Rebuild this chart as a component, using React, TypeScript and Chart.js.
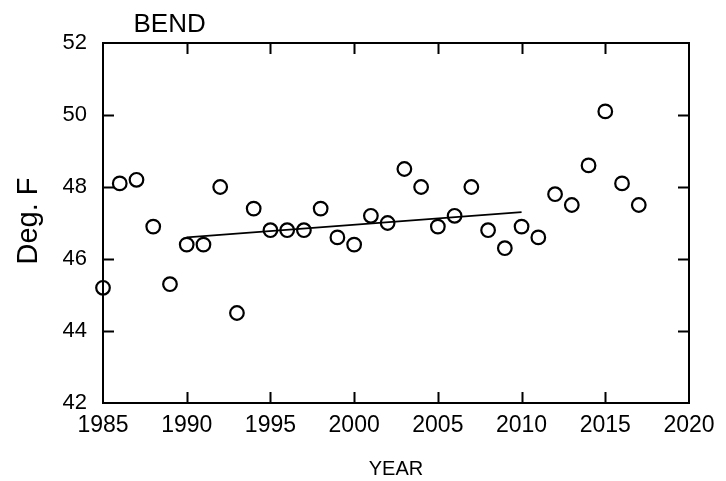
import React, { useEffect, useRef } from "react";
import { Chart, registerables } from "chart.js";

Chart.register(...registerables);

const TITLE = "BEND";
const X_TITLE = "YEAR";
const Y_TITLE = "Deg. F";

const years = [
  1985, 1986, 1987, 1988, 1989, 1990, 1991, 1992, 1993, 1994, 1995, 1996, 1997,
  1998, 1999, 2000, 2001, 2002, 2003, 2004, 2005, 2006, 2007, 2008, 2009, 2010,
  2011, 2012, 2013, 2014, 2015, 2016, 2017,
];
const temps = [
  45.2, 48.1, 48.2, 46.9, 45.3, 46.4, 46.4, 48.0, 44.5, 47.4, 46.8, 46.8, 46.8,
  47.4, 46.6, 46.4, 47.2, 47.0, 48.5, 48.0, 46.9, 47.2, 48.0, 46.8, 46.3, 46.9,
  46.6, 47.8, 47.5, 48.6, 50.1, 48.1, 47.5,
];
const trendYears = [1990, 2010];
const trendTemps = [46.6, 47.3];

const xMin = 1985;
const xMax = 2020;
const xStep = 5;
const yMin = 42;
const yMax = 52;
const yStep = 2;

const FONT = '"Liberation Sans", Arial, Helvetica, sans-serif';
const TICK = 11;

const framePlugin = {
  id: "frameAndTexts",
  afterDraw(chart: any) {
    const { ctx, chartArea: a, scales } = chart;
    const xs = scales.x;
    const ys = scales.y;
    ctx.save();
    ctx.strokeStyle = "#000";
    ctx.lineWidth = 2;
    ctx.strokeRect(a.left, a.top, a.right - a.left, a.bottom - a.top);
    ctx.beginPath();
    xs.ticks.forEach((t: any) => {
      const p = Math.round(xs.getPixelForValue(t.value)) + 0.5;
      if (p <= a.left + 2 || p >= a.right - 2) return;
      ctx.moveTo(p, a.bottom);
      ctx.lineTo(p, a.bottom - TICK);
      ctx.moveTo(p, a.top);
      ctx.lineTo(p, a.top + TICK);
    });
    ys.ticks.forEach((t: any) => {
      const p = Math.round(ys.getPixelForValue(t.value)) + 0.5;
      if (p <= a.top + 2 || p >= a.bottom - 2) return;
      ctx.moveTo(a.left, p);
      ctx.lineTo(a.left + TICK, p);
      ctx.moveTo(a.right, p);
      ctx.lineTo(a.right - TICK, p);
    });
    ctx.stroke();

    ctx.fillStyle = "#000";
    ctx.textBaseline = "alphabetic";
    // chart title
    ctx.font = `26px ${FONT}`;
    ctx.textAlign = "left";
    ctx.fillText(TITLE, a.left + 30.5, 32);
    // x title
    ctx.font = `20px ${FONT}`;
    ctx.textAlign = "center";
    ctx.fillText(X_TITLE, (a.left + a.right) / 2, 475);
    // y title
    ctx.save();
    ctx.translate(37, (a.top + a.bottom) / 2 - 2);
    ctx.rotate(-Math.PI / 2);
    ctx.font = `29px ${FONT}`;
    ctx.textAlign = "center";
    ctx.fillText(Y_TITLE, 0, 0);
    ctx.restore();
    ctx.restore();
  },
};

export default function App() {
  const ref = useRef<HTMLCanvasElement | null>(null);

  useEffect(() => {
    if (!ref.current) return;
    const chart = new Chart(ref.current, {
      type: "scatter",
      data: {
        datasets: [
          {
            type: "scatter",
            data: years.map((y, i) => ({ x: y, y: temps[i] })),
            pointStyle: "circle",
            pointRadius: 6.8,
            pointBorderWidth: 2.2,
            borderColor: "#000",
            backgroundColor: "rgba(0,0,0,0)",
            clip: false,
          } as any,
          {
            type: "line",
            data: trendYears.map((y, i) => ({ x: y, y: trendTemps[i] })),
            borderColor: "#000",
            borderWidth: 1.8,
            pointRadius: 0,
            fill: false,
          } as any,
        ],
      },
      options: {
        responsive: false,
        animation: false,
        layout: { padding: { left: 0, top: 43, right: 37, bottom: 0 } },
        plugins: {
          legend: { display: false },
          title: { display: false },
          tooltip: { enabled: false },
        },
        scales: {
          x: {
            type: "linear",
            min: xMin,
            max: xMax,
            grid: { display: false, drawTicks: false },
            border: { display: false },
            ticks: {
              stepSize: xStep,
              color: "#000",
              padding: 9,
              maxRotation: 0,
              font: { family: FONT, size: 23 },
              callback: (v: any) => String(v),
            },
            afterFit: (s: any) => {
              s.height = 78;
            },
          },
          y: {
            type: "linear",
            min: yMin,
            max: yMax,
            grid: { display: false, drawTicks: false },
            border: { display: false },
            ticks: {
              stepSize: yStep,
              color: "#000",
              padding: 16,
              font: { family: FONT, size: 22 },
              callback: (v: any) => String(v),
            },
            afterFit: (s: any) => {
              s.width = 103;
            },
          },
        },
      },
      plugins: [framePlugin],
    });
    return () => chart.destroy();
  }, []);

  return (
    <div
      style={{
        position: "absolute",
        left: 0,
        top: 0,
        width: 726,
        height: 481,
        background: "#fff",
      }}
    >
      <canvas ref={ref} width={726} height={481} style={{ display: "block" }} />
    </div>
  );
}
